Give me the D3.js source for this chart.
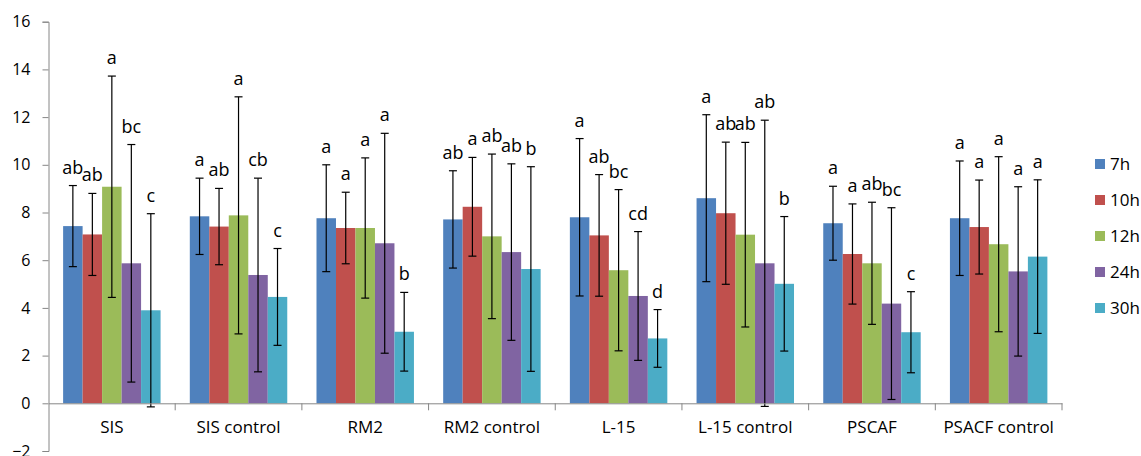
<!DOCTYPE html>
<html>
<head>
<meta charset="utf-8">
<script src="https://cdn.jsdelivr.net/npm/d3@7"></script>
<style>
  body { margin: 0; background: #fff; }
  text { font-family: "Open Sans", "Noto Sans", sans-serif; fill: #000; }
</style>
</head>
<body>
<div id="chart"></div>
<script>
// groups and series
const groups = ["SIS", "SIS control", "RM2", "RM2 control", "L-15", "L-15 control", "PSCAF", "PSACF control"];
const seriesNames = ["7h", "10h", "12h", "24h", "30h"];
const colors = ["#4F81BD", "#C0504D", "#9BBB59", "#8064A2", "#4BACC6"];

// mean values, one row per group (7h, 10h, 12h, 24h, 30h)
const means = [
  [7.43, 7.08, 9.08, 5.87, 3.90],
  [7.84, 7.41, 7.88, 5.38, 4.46],
  [7.76, 7.35, 7.35, 6.71, 3.00],
  [7.71, 8.24, 7.00, 6.34, 5.63],
  [7.80, 7.04, 5.58, 4.50, 2.72],
  [8.60, 7.97, 7.07, 5.87, 5.01],
  [7.55, 6.26, 5.87, 4.18, 2.98],
  [7.76, 7.39, 6.67, 5.53, 6.15]
];

// error (+/-)
const errs = [
  [1.70, 1.72, 4.64, 4.98, 4.05],
  [1.60, 1.60, 4.97, 4.06, 2.03],
  [2.24, 1.50, 2.94, 4.61, 1.65],
  [2.04, 2.07, 3.45, 3.70, 4.29],
  [3.30, 2.55, 3.38, 2.70, 1.21],
  [3.50, 2.98, 3.87, 6.00, 2.82],
  [1.55, 2.10, 2.56, 4.02, 1.70],
  [2.40, 1.97, 3.67, 3.55, 3.22]
];

// significance letters
const letters = [
  ["ab", "ab", "a", "bc", "c"],
  ["a", "ab", "a", "cb", "c"],
  ["a", "a", "a", "a", "b"],
  ["ab", "a", "ab", "ab", "b"],
  ["a", "ab", "bc", "cd", "d"],
  ["a", "ab", "ab", "ab", "b"],
  ["a", "a", "ab", "bc", "c"],
  ["a", "a", "a", "a", "a"]
];

const yTicks = [-2, 0, 2, 4, 6, 8, 10, 12, 14, 16];

const W = 1141, H = 456;
const plot = { left: 48.5, right: 1062, top: 21.7, bottom: 451 };

const svg = d3.select("#chart").append("svg")
  .attr("width", W).attr("height", H);

const y = d3.scaleLinear().domain([-2, 16]).range([plot.bottom, plot.top]);

const x0 = d3.scaleBand().domain(groups).range([plot.left, plot.right])
  .paddingInner(0).paddingOuter(0);

// gap width 150% of one bar
const barW = x0.bandwidth() / 6.5;
const x1 = d3.scaleBand().domain(seriesNames)
  .range([barW * 0.75, barW * 5.75]).padding(0);

// y axis
const yAxis = d3.axisLeft(y).tickValues(yTicks).tickSize(6).tickPadding(12)
  .tickFormat(d3.format("d"));
const gy = svg.append("g").attr("transform", "translate(" + plot.left + ",0)").call(yAxis);
gy.select(".domain").attr("stroke", "#868686");
gy.selectAll(".tick line").attr("stroke", "#868686");
gy.selectAll(".tick text").style("font-size", "16px").attr("fill", "#000");

// bars
const rows = [];
groups.forEach((g, i) => {
  seriesNames.forEach((s, j) => {
    rows.push({ g: g, s: s, j: j, v: means[i][j], e: errs[i][j], lab: letters[i][j] });
  });
});

const bar = svg.append("g").selectAll("g")
  .data(rows).enter().append("g")
  .attr("transform", d => "translate(" + (x0(d.g) + x1(d.s)) + ",0)");

bar.append("rect")
  .attr("x", 0)
  .attr("y", d => y(d.v))
  .attr("width", x1.bandwidth())
  .attr("height", d => y(0) - y(d.v))
  .attr("fill", d => colors[d.j]);

// x axis at zero
const xAxis = d3.axisBottom(x0).tickSize(0).tickPadding(18);
const gx = svg.append("g").attr("transform", "translate(0," + y(0) + ")").call(xAxis);
gx.select(".domain").attr("stroke", "#868686");
gx.selectAll(".tick text").style("font-size", "17px").attr("fill", "#000");
gx.selectAll(".boundary").data(groups.slice(1).concat(["end"])).enter()
  .append("line")
  .attr("x1", (d, i) => plot.left + x0.step() * (i + 1))
  .attr("x2", (d, i) => plot.left + x0.step() * (i + 1))
  .attr("y1", 0).attr("y2", 7)
  .attr("stroke", "#868686");

// error bars
const cx = x1.bandwidth() / 2;
const errG = bar.append("g").attr("stroke", "#000").attr("stroke-width", 1.2);
errG.append("line")
  .attr("x1", cx).attr("x2", cx)
  .attr("y1", d => y(d.v + d.e)).attr("y2", d => y(d.v - d.e));
errG.append("line")
  .attr("x1", cx - 4).attr("x2", cx + 4)
  .attr("y1", d => y(d.v + d.e)).attr("y2", d => y(d.v + d.e));
errG.append("line")
  .attr("x1", cx - 4).attr("x2", cx + 4)
  .attr("y1", d => y(d.v - d.e)).attr("y2", d => y(d.v - d.e));

// letters
bar.append("text")
  .attr("x", cx)
  .attr("y", d => y(d.v + d.e) - 12)
  .attr("text-anchor", "middle")
  .style("font-size", "18px")
  .text(d => d.lab);

// legend
const leg = svg.append("g").attr("transform", "translate(1095,159)");
const li = leg.selectAll("g").data(seriesNames).enter().append("g")
  .attr("transform", (d, i) => "translate(0," + i * 36 + ")");
li.append("rect").attr("width", 10).attr("height", 10)
  .attr("fill", (d, i) => colors[i]);
li.append("text").attr("x", 15).attr("y", 5).attr("dy", "0.35em")
  .style("font-size", "17px").text(d => d);
</script>
</body>
</html>
